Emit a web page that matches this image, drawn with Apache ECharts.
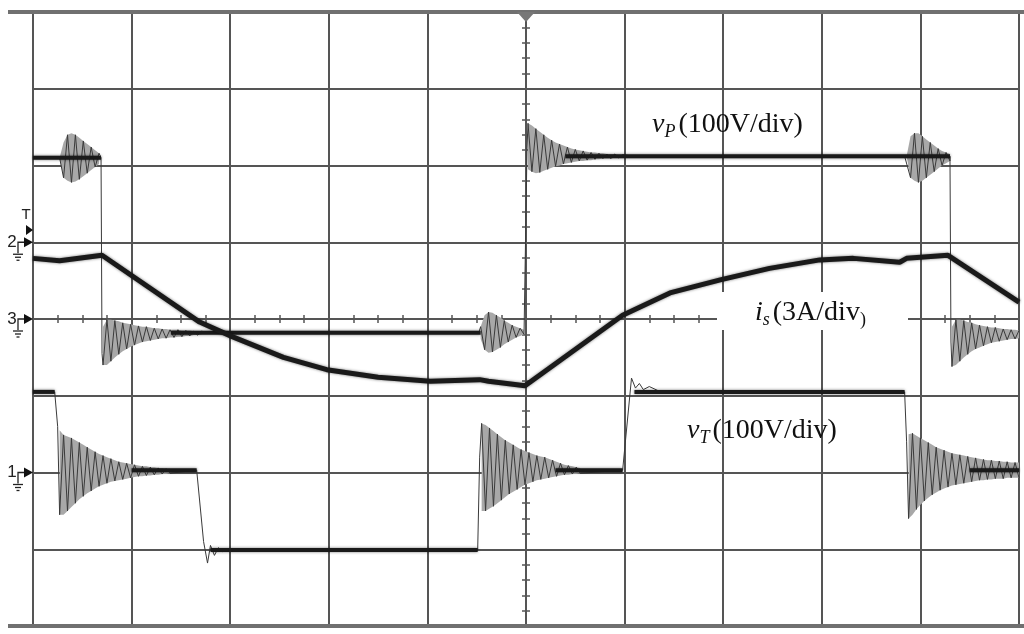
<!DOCTYPE html>
<html lang="en">
<head>
    <meta charset="UTF-8">
    <title>vP, is, vT</title>
    <script src="https://cdn.jsdelivr.net/npm/echarts@6/dist/echarts.min.js"></script>
    <style>
        html, body { margin: 0; background: #fff; }
        #scope { width: 1024px; height: 634px; }
    </style>
</head>
<body>
    <div id="scope"></div>

    <script>
        // screen in divisions, origin at the centre of the scope screen
        var xRange = [-5, 5];
        var yRange = [-4, 4];

        // ringing bursts: start, sample step, first swing, upper / lower envelope
        var vpRingA = { x0: -4.73, dx: 0.04, first: 'hi',
            hi: [2.10, 2.30, 2.40, 2.42, 2.40, 2.36, 2.32, 2.28, 2.24, 2.20, 2.16],
            lo: [2.10, 1.84, 1.80, 1.78, 1.79, 1.82, 1.86, 1.90, 1.94, 1.98, 2.02] };
        var vpRingB = { x0: -4.29, dx: 0.04, first: 'lo',
            hi: [-0.10, -0.01, -0.01, -0.02, -0.03, -0.05, -0.06, -0.07, -0.08, -0.09, -0.10, -0.10, -0.11, -0.12, -0.12, -0.13, -0.13, -0.14, -0.14, -0.14, -0.15, -0.15, -0.15, -0.16, -0.16, -0.16],
            lo: [-0.60, -0.60, -0.55, -0.50, -0.46, -0.42, -0.39, -0.36, -0.34, -0.32, -0.30, -0.29, -0.28, -0.27, -0.26, -0.25, -0.25, -0.24, -0.24, -0.23, -0.23, -0.22, -0.22, -0.21, -0.21, -0.20] };
        var vpRingC = { x0: -0.46, dx: 0.04, first: 'hi',
            hi: [-0.10, 0.05, 0.09, 0.08, 0.05, 0.02, -0.02, -0.05, -0.08, -0.10, -0.12, -0.14],
            lo: [-0.26, -0.40, -0.44, -0.43, -0.40, -0.37, -0.33, -0.30, -0.27, -0.24, -0.22, -0.20] };
        var vpRingD = { x0: 0.02, dx: 0.04, first: 'hi',
            hi: [2.55, 2.52, 2.48, 2.44, 2.40, 2.36, 2.33, 2.30, 2.28, 2.26, 2.24, 2.22, 2.21, 2.20, 2.19, 2.18, 2.17, 2.17, 2.16, 2.16, 2.15, 2.15, 2.15, 2.14, 2.14],
            lo: [1.95, 1.92, 1.90, 1.91, 1.93, 1.95, 1.97, 1.99, 2.00, 2.02, 2.03, 2.04, 2.05, 2.06, 2.06, 2.07, 2.07, 2.08, 2.08, 2.09, 2.09, 2.09, 2.10, 2.10, 2.10] };
        var vpRingE = { x0: 3.86, dx: 0.04, first: 'hi',
            hi: [2.12, 2.38, 2.42, 2.42, 2.38, 2.34, 2.30, 2.26, 2.22, 2.19, 2.17, 2.15],
            lo: [2.12, 1.84, 1.80, 1.78, 1.80, 1.84, 1.88, 1.92, 1.96, 2.00, 2.03, 2.06] };
        var vpRingF = { x0: 4.32, dx: 0.04, first: 'lo',
            hi: [-0.10, -0.01, -0.01, -0.02, -0.04, -0.05, -0.07, -0.08, -0.09, -0.10, -0.11, -0.11, -0.12, -0.13, -0.13, -0.14, -0.14, -0.15],
            lo: [-0.62, -0.60, -0.55, -0.50, -0.46, -0.42, -0.39, -0.37, -0.35, -0.33, -0.31, -0.30, -0.29, -0.28, -0.27, -0.26, -0.26, -0.25] };
        var vtRingG = { x0: -4.73, dx: 0.04, first: 'lo',
            hi: [-1.45, -1.51, -1.53, -1.55, -1.58, -1.61, -1.64, -1.67, -1.70, -1.73, -1.76, -1.78, -1.80, -1.82, -1.84, -1.86, -1.87, -1.88, -1.89, -1.90, -1.91, -1.92, -1.92, -1.93, -1.93, -1.94, -1.94, -1.95, -1.95],
            lo: [-2.55, -2.55, -2.50, -2.45, -2.40, -2.35, -2.31, -2.27, -2.24, -2.21, -2.18, -2.16, -2.14, -2.12, -2.11, -2.10, -2.09, -2.08, -2.07, -2.06, -2.05, -2.05, -2.04, -2.04, -2.03, -2.03, -2.02, -2.02, -2.01] };
        var vtRingI = { x0: -0.45, dx: 0.04, first: 'hi',
            hi: [-1.36, -1.38, -1.42, -1.46, -1.50, -1.54, -1.58, -1.61, -1.64, -1.67, -1.70, -1.72, -1.74, -1.76, -1.78, -1.79, -1.80, -1.82, -1.84, -1.86, -1.88, -1.90, -1.91, -1.92, -1.93, -1.94],
            lo: [-2.50, -2.50, -2.47, -2.44, -2.40, -2.36, -2.32, -2.28, -2.25, -2.22, -2.19, -2.16, -2.14, -2.12, -2.10, -2.09, -2.08, -2.07, -2.06, -2.05, -2.04, -2.03, -2.03, -2.02, -2.02, -2.01] };
        var vtRingK = { x0: 3.88, dx: 0.04, first: 'lo',
            hi: [-1.50, -1.49, -1.52, -1.55, -1.58, -1.61, -1.64, -1.67, -1.69, -1.71, -1.73, -1.75, -1.76, -1.77, -1.78, -1.79, -1.80, -1.81, -1.82, -1.83, -1.84, -1.84, -1.85, -1.85, -1.86, -1.86, -1.87, -1.87, -1.87],
            lo: [-2.60, -2.55, -2.48, -2.42, -2.37, -2.33, -2.29, -2.26, -2.23, -2.21, -2.19, -2.17, -2.16, -2.15, -2.14, -2.13, -2.12, -2.11, -2.10, -2.10, -2.09, -2.09, -2.08, -2.08, -2.08, -2.07, -2.07, -2.07, -2.07] };

        // vP trace
        var vpTrace = [
            [-5, 2.10], vpRingA, [-4.31, 2.10], [-4.30, -0.45],
            vpRingB, [-3.2, -0.18], [-0.48, -0.18], vpRingC, [0.0, -0.18], [0.01, 2.20],
            vpRingD, [1.1, 2.12], [3.84, 2.12], vpRingE, [4.30, 2.12], [4.31, -0.30], vpRingF
        ];
        var vpFlat = [
            [[-5, 2.10], [-4.31, 2.10]],
            [[-3.6, -0.18], [-0.46, -0.18]],
            [[0.4, 2.12], [4.30, 2.12]]
        ];

        // vT trace
        var vtTrace = [
            [-5, -0.95], [-4.78, -0.95], [-4.75, -1.40], vtRingG,
            [-3.34, -1.97], [-3.27, -2.90], [-3.23, -3.18], [-3.20, -2.95], [-3.16, -3.08], [-3.12, -2.98], [-3.08, -3.03], [-3.04, -3.01],
            [-0.49, -3.01], [-0.47, -1.80], vtRingI,
            [0.98, -1.97], [1.07, -0.77], [1.11, -0.90], [1.15, -0.84], [1.19, -0.92], [1.25, -0.88], [1.35, -0.94], [1.5, -0.95],
            [3.84, -0.95], [3.86, -1.60], vtRingK
        ];
        var vtFlat = [
            [[-5, -0.95], [-4.78, -0.95]],
            [[-4.0, -1.97], [-3.34, -1.97]],
            [[-3.2, -3.01], [-0.49, -3.01]],
            [[0.3, -1.97], [0.98, -1.97]],
            [[1.1, -0.95], [3.84, -0.95]],
            [[4.5, -1.97], [5, -1.97]]
        ];

        // is trace
        var isTrace = [
            [-5, 0.79], [-4.73, 0.76], [-4.30, 0.83], [-3.31, -0.04], [-2.98, -0.23], [-2.46, -0.50],
            [-2.02, -0.66], [-1.5, -0.76], [-0.97, -0.81], [-0.47, -0.79], [-0.38, -0.81], [-0.01, -0.87],
            [0.98, 0.05], [1.46, 0.34], [1.97, 0.51], [2.47, 0.66], [2.98, 0.77], [3.32, 0.79],
            [3.79, 0.74], [3.86, 0.79], [4.28, 0.83], [5.0, 0.22]
        ];

        var rings = [vpRingA, vpRingB, vpRingC, vpRingD, vpRingE, vpRingF, vtRingG, vtRingI, vtRingK];

        // channel ground markers and trigger level (divisions)
        var chanNames = ['2', '3', '1'];
        var chanLevels = [1, 0, -2];
        var trigLevel = 1.16;

        var gridColor = '#555';
        var ink = '#1a1a1a';

        function expand(pieces) {
            var pts = [];
            pieces.forEach(function (p) {
                if (Array.isArray(p)) {
                    pts.push(p);
                } else {
                    p.hi.forEach(function (h, i) {
                        var up = (i % 2 === 0) === (p.first === 'hi');
                        pts.push([p.x0 + i * p.dx, up ? h : p.lo[i]]);
                    });
                }
            });
            return pts;
        }

        function lineSeries(data, width, color, z) {
            var s = {
                type: 'line',
                data: data,
                showSymbol: false,
                silent: true,
                lineStyle: { color: color, width: width },
                z: z
            };
            if (width > 2) {
                s.lineStyle.shadowBlur = 3;
                s.lineStyle.shadowColor = 'rgba(0,0,0,0.55)';
            }
            return s;
        }

        function xAxisAt(pos, grid) {
            return {
                type: 'value', min: xRange[0], max: xRange[1], interval: 1, position: pos,
                axisLine: { show: true, onZero: true, onZeroAxisIndex: 0, lineStyle: { color: gridColor, width: 2 } },
                axisTick: { show: true, length: 4, lineStyle: { color: gridColor, width: 1.5 } },
                minorTick: { show: true, splitNumber: 4, length: 4, lineStyle: { color: gridColor, width: 1.5 } },
                axisLabel: { show: false },
                splitLine: { show: grid, lineStyle: { color: gridColor, width: 2 } }
            };
        }

        function yAxisAt(pos, grid) {
            return {
                type: 'value', min: yRange[0], max: yRange[1], interval: 1, position: pos,
                axisLine: { show: true, onZero: true, onZeroAxisIndex: 0, lineStyle: { color: gridColor, width: 2 } },
                axisTick: { show: true, length: 4, lineStyle: { color: gridColor, width: 1.5 } },
                minorTick: { show: true, splitNumber: 5, length: 4, lineStyle: { color: gridColor, width: 1.5 } },
                axisLabel: { show: false },
                splitLine: { show: grid, lineStyle: { color: gridColor, width: 2 } }
            };
        }

        var series = [];
        // grey blur of the ringing, drawn as the envelope of each burst
        series.push({
            type: 'custom',
            silent: true,
            z: 2,
            data: rings.map(function (r) { return [r.x0, 0]; }),
            renderItem: function (params, api) {
                var r = rings[params.dataIndex];
                var top = r.hi.map(function (v, i) { return api.coord([r.x0 + i * r.dx, v]); });
                var bottom = r.lo.map(function (v, i) { return api.coord([r.x0 + i * r.dx, v]); }).reverse();
                return { type: 'polygon', shape: { points: top.concat(bottom) }, style: { fill: '#a8a8a8' } };
            }
        });
        series.push(lineSeries(expand(vpTrace), 1, '#3a3a3a', 3));
        vpFlat.forEach(function (seg) { series.push(lineSeries(seg, 4, ink, 4)); });
        series.push(lineSeries(expand(vtTrace), 1, '#3a3a3a', 3));
        vtFlat.forEach(function (seg) { series.push(lineSeries(seg, 4, ink, 4)); });
        series.push(lineSeries(isTrace, 5, ink, 5));

        var scope = echarts.init(document.getElementById('scope'));
        scope.setOption({
            animation: false,
            backgroundColor: '#fff',
            grid: { left: 33, right: 5, top: 12, bottom: 8 },
            xAxis: [xAxisAt('bottom', true), xAxisAt('top', false)],
            yAxis: [yAxisAt('left', true), yAxisAt('right', false)],
            series: series
        });

        // screen frame, trigger and channel markers, trace labels
        var serif = '"Liberation Serif", "Times New Roman", serif';
        var px = function (pt) { return scope.convertToPixel({ gridIndex: 0 }, pt); };
        var tl = px([xRange[0], yRange[1]]);
        var br = px([xRange[1], yRange[0]]);
        var g = [];

        [tl[1], br[1]].forEach(function (y) {
            g.push({ type: 'line', z: 100, shape: { x1: 8, y1: y, x2: 1024, y2: y }, style: { stroke: '#707070', lineWidth: 4 } });
        });

        var trig = px([0, yRange[1]]);
        g.push({ type: 'polygon', z: 101, shape: { points: [[trig[0] - 9, trig[1]], [trig[0] + 9, trig[1]], [trig[0], trig[1] + 10]] }, style: { fill: '#777' } });

        var x0 = tl[0];
        chanNames.forEach(function (name, i) {
            var y = px([xRange[0], chanLevels[i]])[1];
            g.push({ type: 'text', z: 101, x: x0 - 21, y: y, style: { text: name, font: '17px "Liberation Sans", sans-serif', fill: '#222', align: 'center', verticalAlign: 'middle' } });
            g.push({ type: 'polyline', z: 101, shape: { points: [[x0 - 15, y + 11], [x0 - 15, y], [x0 - 8, y]] }, style: { stroke: '#222', lineWidth: 1.3, fill: 'none' } });
            g.push({ type: 'polygon', z: 101, shape: { points: [[x0 - 9, y - 5], [x0, y], [x0 - 9, y + 5]] }, style: { fill: '#111' } });
            g.push({ type: 'line', z: 101, shape: { x1: x0 - 20, y1: y + 12, x2: x0 - 10, y2: y + 12 }, style: { stroke: '#222', lineWidth: 1.3 } });
            g.push({ type: 'line', z: 101, shape: { x1: x0 - 18, y1: y + 15, x2: x0 - 12, y2: y + 15 }, style: { stroke: '#222', lineWidth: 1.3 } });
            g.push({ type: 'line', z: 101, shape: { x1: x0 - 16.5, y1: y + 18, x2: x0 - 13.5, y2: y + 18 }, style: { stroke: '#222', lineWidth: 1.3 } });
        });

        var ty = px([xRange[0], trigLevel])[1];
        g.push({ type: 'text', z: 101, x: x0 - 7, y: ty - 15, style: { text: 'T', font: '15px "Liberation Sans", sans-serif', fill: '#222', align: 'center', verticalAlign: 'middle' } });
        g.push({ type: 'polygon', z: 101, shape: { points: [[x0 - 7, ty - 5], [x0, ty], [x0 - 7, ty + 5]] }, style: { fill: '#111' } });

        var rich = {
            v: { fontFamily: serif, fontStyle: 'italic', fontSize: 28, lineHeight: 32, fill: '#111' },
            s: { fontFamily: serif, fontStyle: 'italic', fontSize: 18, lineHeight: 22, verticalAlign: 'bottom', fill: '#111' },
            t: { fontFamily: serif, fontSize: 28, lineHeight: 32, padding: [0, 0, 0, 3], fill: '#111' },
            p: { fontFamily: serif, fontSize: 18, lineHeight: 22, verticalAlign: 'bottom', fill: '#111' }
        };
        g.push({ type: 'text', z: 102, x: 652, y: 125, style: { text: '{v|v}{s|P}{t|(100V/div)}', rich: rich, verticalAlign: 'middle' } });
        g.push({ type: 'rect', z: 101, shape: { x: 717, y: 292, width: 191, height: 38 }, style: { fill: '#fff' } });
        g.push({ type: 'text', z: 102, x: 755, y: 313, style: { text: '{v|i}{s|s}{t|(3A/div}{p|)}', rich: rich, verticalAlign: 'middle' } });
        g.push({ type: 'text', z: 102, x: 687, y: 431, style: { text: '{v|v}{s|T}{t|(100V/div)}', rich: rich, verticalAlign: 'middle' } });

        scope.setOption({ graphic: { elements: g } });
    </script>
</body>
</html>
